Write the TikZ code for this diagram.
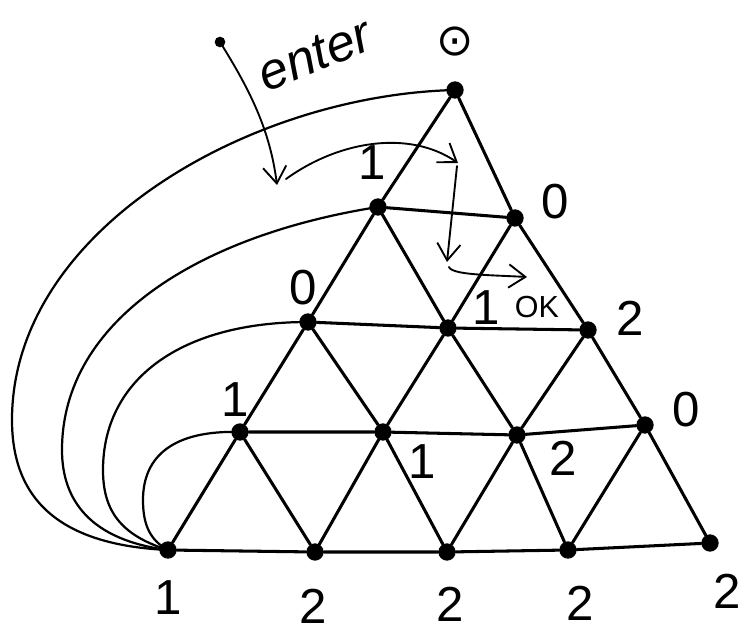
\documentclass[tikz,border=0pt]{standalone}
\usepackage{fontspec}
\setmainfont{Liberation Sans}
\newfontfamily\symfont{DejaVu Sans}
\usetikzlibrary{arrows.meta}
\begin{document}
\begin{tikzpicture}[x=0.03cm,y=-0.03cm,
  vdot/.style={circle,fill=black,inner sep=0pt,minimum size=0.52cm},
  sdot/.style={circle,fill=black,inner sep=0pt,minimum size=0.32cm},
  grid/.style={line width=2.6pt,line cap=round},
  loopedge/.style={line width=1.9pt,line cap=round},
  harrow/.style={line width=1.6pt,line cap=round,-{Straight Barb[length=5mm,width=7mm,line width=1.6pt]}},
  lab/.style={font=\fontsize{42}{46}\selectfont,inner sep=0pt}]
\useasboundingbox (0,0) rectangle (747,634);
% vertices
\node[vdot] (a1) at (455,90) {};
\node[vdot] (b1) at (378,207) {};
\node[vdot] (b2) at (515,218) {};
\node[vdot] (c1) at (308,322) {};
\node[vdot] (c2) at (448,328) {};
\node[vdot] (c3) at (588,330) {};
\node[vdot] (d1) at (240,432) {};
\node[vdot] (d2) at (383,432) {};
\node[vdot] (d3) at (517,435) {};
\node[vdot] (d4) at (645,425) {};
\node[vdot] (e1) at (168,550) {};
\node[vdot] (e2) at (315,552) {};
\node[vdot] (e3) at (447,552) {};
\node[vdot] (e4) at (568,550) {};
\node[vdot] (e5) at (710,543) {};
% grid edges
\draw[grid] (b1) -- (b2);
\draw[grid] (c1) -- (c2) -- (c3);
\draw[grid] (d1) -- (d2) -- (d3) -- (d4);
\draw[grid] (e1) -- (e2) -- (e3) -- (e4) -- (e5);
\draw[grid] (a1) -- (b1) (a1) -- (b2);
\draw[grid] (b1) -- (c1) (b1) -- (c2) (b2) -- (c2) (b2) -- (c3);
\draw[grid] (c1) -- (d1) (c1) -- (d2) (c2) -- (d2) (c2) -- (d3) (c3) -- (d3) (c3) -- (d4);
\draw[grid] (d1) -- (e1) (d1) -- (e2) (d2) -- (e2) (d2) -- (e3) (d3) -- (e3) (d3) -- (e4) (d4) -- (e4) (d4) -- (e5);
% outer curved edges from bottom-left vertex
\draw[loopedge] (e1.center) .. controls (60,545) and (12,500) .. (12,420) .. controls (12,230) and (250,95) .. (a1.center);
\draw[loopedge] (e1.center) .. controls (90,540) and (62,500) .. (62,450) .. controls (62,320) and (200,235) .. (b1.center);
\draw[loopedge] (e1.center) .. controls (120,535) and (103,510) .. (103,470) .. controls (103,380) and (180,322) .. (c1.center);
\draw[loopedge] (e1.center) .. controls (150,540) and (143,525) .. (143,500) .. controls (143,455) and (175,430) .. (d1.center);
% enter path
\node[sdot] (s) at (220,42) {};
\coordinate (p1) at (277,185);
\coordinate (p2) at (286,179);
\coordinate (p3) at (458,163);
\coordinate (p4) at (457,166);
\coordinate (p5) at (447,262);
\coordinate (p6) at (449,267);
\coordinate (p7) at (527,277);
\draw[harrow] (s.center) .. controls (250,90) and (270,130) .. (p1);
\draw[harrow] (p2) .. controls (340,140) and (410,130) .. (p3);
\draw[harrow] (p4) -- (p5);
\draw[harrow] (p6) .. controls (452,275) and (490,275) .. (p7);
\node[font=\fontsize{44}{48}\selectfont\rmfamily\itshape, rotate=22, inner sep=0pt] (enter) at (315,55) {enter};
% labels
\node[lab,font=\fontsize{38}{42}\selectfont\symfont] (l0) at (455,42) {⊙};
\node[lab] (l1) at (372,163) {1};
\node[lab] (l2) at (555,202) {0};
\node[lab] (l3) at (303,288) {0};
\node[lab] (l4) at (486,308) {1};
\node[lab,font=\fontsize{26}{30}\selectfont] (l5) at (537,307) {OK};
\node[lab] (l6) at (630,318) {2};
\node[lab] (l7) at (235,400) {1};
\node[lab] (l8) at (422,462) {1};
\node[lab] (l9) at (563,458) {2};
\node[lab] (l10) at (686,410) {0};
\node[lab] (l11) at (168,598) {1};
\node[lab] (l12) at (313,606) {2};
\node[lab] (l13) at (450,604) {2};
\node[lab] (l14) at (580,603) {2};
\node[lab] (l15) at (727,591) {2};
\end{tikzpicture}
\end{document}
